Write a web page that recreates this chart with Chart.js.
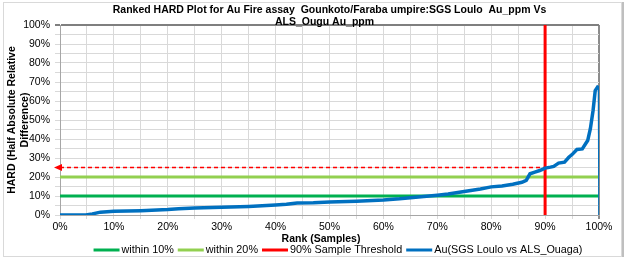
<!DOCTYPE html>
<html>
<head>
<meta charset="utf-8">
<script src="https://cdn.jsdelivr.net/npm/chart.js@4.4.0/dist/chart.umd.min.js"></script>
<style>
  html, body { margin: 0; padding: 0; background: #fff; }
  #wrap { position: relative; width: 626px; height: 260px; }
</style>
</head>
<body>
<div id="wrap"><canvas id="c" width="626" height="260"></canvas></div>
<script>
// ---- data ----
const titleLines = ["Ranked HARD Plot for Au Fire assay  Gounkoto/Faraba umpire:SGS Loulo  Au_ppm Vs", "ALS_Ougu Au_ppm"];
const yTitleLines = ["HARD (Half Absolute Relative", "Difference)"];
const xTitle = "Rank (Samples)";
const seriesNames = ["within 10%", "within 20%", "90% Sample Threshold", "Au(SGS Loulo vs ALS_Ouaga)"];

const rankPct = [0, 4.8, 6, 7.5, 10, 15, 20, 22, 25, 30, 35, 40, 42, 44, 47, 50, 55, 60, 63, 65, 67, 70, 72, 75, 78, 80, 82, 84, 85.7, 86.5, 87.2, 88.1, 89, 90, 91, 91.6, 92.5, 93.6, 94.4, 95, 95.9, 96.9, 97.9, 98.4, 98.9, 99.3, 99.9];
const hardPct = [0, 0, 0.6, 1.5, 2, 2.3, 2.9, 3.3, 3.7, 4.1, 4.5, 5.2, 5.6, 6.3, 6.5, 6.9, 7.3, 7.9, 8.5, 9.1, 9.6, 10.4, 11, 12.4, 13.7, 14.8, 15.3, 16.2, 17.2, 18.2, 21.7, 22.6, 23.4, 24.7, 25.2, 25.6, 27.3, 27.8, 30.4, 31.8, 34.5, 34.8, 39.2, 45.4, 55, 65.5, 68];
const endDropRank = [99.9, 100];
const endDropHard = [68, 0];

const limit10 = 10;
const limit20 = 20;
const thresholdRank = 90;
const thresholdHard = 25;
const xRange = [0, 100];
const yRange = [0, 100];

// ---- colours ----
const cGreen = "#00B050", cLight = "#92D050", cRed = "#FF0000", cBlue = "#0070C0";
const FONT = "'Liberation Sans', Arial, sans-serif";

const toXY = (xs, ys) => xs.map((x, i) => ({x: x, y: ys[i]}));

const decor = {
  id: 'decor',
  afterDraw(chart) {
    const ctx = chart.ctx;
    const xs = chart.scales.x, ys = chart.scales.y;
    const ca = chart.chartArea;
    ctx.save();
    // outer frame
    ctx.strokeStyle = "#d9d9d9"; ctx.lineWidth = 1;
    ctx.strokeRect(3.5, 2.5, 618, 254);
    ctx.strokeStyle = "#bfbfbf"; ctx.lineWidth = 2;
    ctx.beginPath(); ctx.moveTo(623, 2); ctx.lineTo(623, 257); ctx.stroke();

    // arrow head for threshold dashed line
    const ay = ys.getPixelForValue(thresholdHard);
    const ax = xs.getPixelForValue(xRange[0]);
    ctx.fillStyle = cRed;
    ctx.beginPath();
    ctx.moveTo(ax - 6, ay);
    ctx.lineTo(ax + 2, ay - 3.5);
    ctx.lineTo(ax + 2, ay + 3.5);
    ctx.closePath(); ctx.fill();

    // title
    ctx.fillStyle = "#000";
    ctx.textAlign = "center"; ctx.textBaseline = "middle";
    ctx.font = "bold 10.5px " + FONT;
    const cx = (ca.left + ca.right) / 2;
    ctx.fillText(titleLines[0], cx, 10);
    ctx.fillText(titleLines[1], cx - 5, 22);

    // y title
    ctx.save();
    ctx.translate(12, (ca.top + ca.bottom) / 2);
    ctx.rotate(-Math.PI / 2);
    ctx.font = "bold 10.5px " + FONT;
    ctx.fillText(yTitleLines[0], 0, 0);
    ctx.fillText(yTitleLines[1], 0, 13);
    ctx.restore();

    // x title
    ctx.font = "bold 10.5px " + FONT;
    ctx.fillText(xTitle, 321, 239);

    // legend
    const colors = [cGreen, cLight, cRed, cBlue];
    ctx.font = "10.8px " + FONT;
    const lineW = 26, gap1 = 2, gap2 = 4;
    let total = 0;
    const widths = seriesNames.map(s => ctx.measureText(s).width);
    widths.forEach((w, i) => { total += lineW + gap1 + w + (i < widths.length - 1 ? gap2 : 0); });
    let x = 338 - total / 2;
    const ly = 250;
    ctx.textAlign = "left";
    seriesNames.forEach((s, i) => {
      ctx.strokeStyle = colors[i]; ctx.lineWidth = 3;
      ctx.beginPath(); ctx.moveTo(x, ly); ctx.lineTo(x + lineW, ly); ctx.stroke();
      x += lineW + gap1;
      ctx.fillText(s, x, ly);
      x += widths[i] + gap2;
    });
    ctx.restore();
  }
};

new Chart(document.getElementById('c'), {
  type: 'line',
  data: {
    datasets: [
      { label: seriesNames[3], data: toXY(rankPct, hardPct), borderColor: cBlue, backgroundColor: cBlue, borderWidth: 3.5, pointRadius: 0, tension: 0, order: 0 },
      { label: 'drop', data: toXY(endDropRank, endDropHard), borderColor: cBlue, backgroundColor: cBlue, borderWidth: 1.5, pointRadius: 0, order: 1 },
      { label: seriesNames[2], data: toXY([thresholdRank, thresholdRank], yRange), borderColor: cRed, backgroundColor: cRed, borderWidth: 3, pointRadius: 0, order: 2 },
      { label: 'thr', data: toXY([xRange[0], thresholdRank], [thresholdHard, thresholdHard]), borderColor: "rgb(255,0,0)", backgroundColor: cRed, borderWidth: 1.5, borderDash: [4, 3], pointRadius: 0, order: 3 },
      { label: seriesNames[1], data: toXY(xRange, [limit20, limit20]), borderColor: cLight, backgroundColor: cLight, borderWidth: 3, pointRadius: 0, order: 4 },
      { label: seriesNames[0], data: toXY(xRange, [limit10, limit10]), borderColor: cGreen, backgroundColor: cGreen, borderWidth: 3, pointRadius: 0, order: 5 }
    ]
  },
  options: {
    responsive: false,
    animation: false,
    devicePixelRatio: 1,
    layout: { padding: { top: 25, right: 27, left: 0, bottom: 0 } },
    plugins: { legend: { display: false }, title: { display: false }, tooltip: { enabled: false } },
    scales: {
      x: {
        type: 'linear', min: xRange[0], max: xRange[1],
        afterFit(s) { s.height = 45; },
        grid: {
          color: c => (c.tick && c.tick.value === 100) ? "#8c8c8c" : "#d9d9d9",
          lineWidth: c => (c.tick && c.tick.value === 100) ? 2 : 1,
          tickLength: 4
        },
        border: { color: "#a6a6a6" },
        ticks: {
          stepSize: 5, autoSkip: false, maxRotation: 0, padding: 2,
          color: "#000", font: { family: FONT, size: 10.5 },
          callback: v => (v % 10 === 0 ? v + "%" : "")
        }
      },
      y: {
        type: 'linear', min: yRange[0], max: yRange[1],
        afterFit(s) { s.width = 60; },
        grid: {
          color: c => (c.tick && c.tick.value === 100) ? "#7f7f7f" : "#d9d9d9",
          lineWidth: c => (c.tick && c.tick.value === 100) ? 2 : 1,
          tickLength: 5
        },
        border: { color: "#a6a6a6" },
        ticks: {
          stepSize: 5, autoSkip: false, padding: 5,
          color: "#000", font: { family: FONT, size: 10.5 },
          callback: v => (v % 10 === 0 ? v + "%" : "")
        }
      }
    }
  },
  plugins: [decor]
});
</script>
</body>
</html>
